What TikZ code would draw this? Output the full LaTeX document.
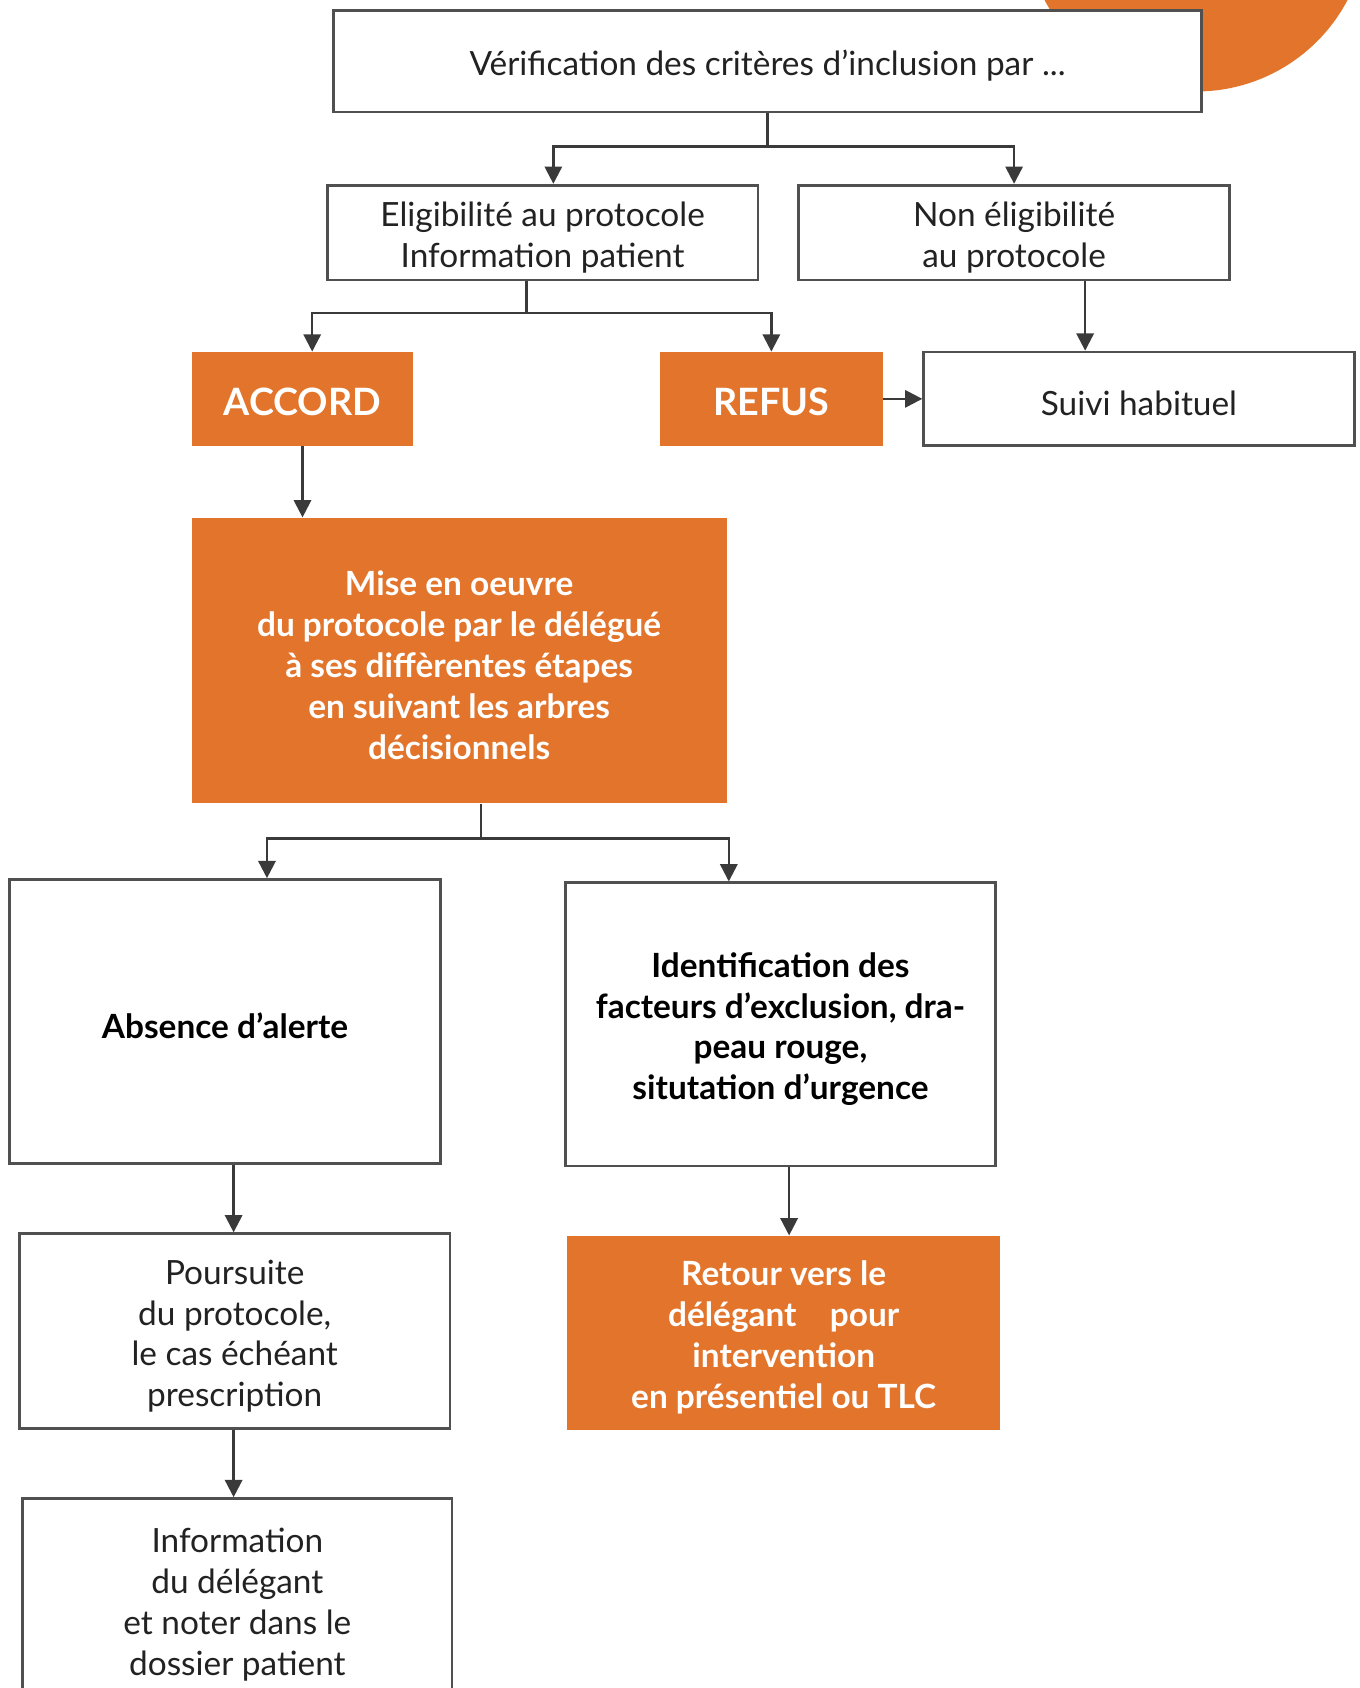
\documentclass[tikz,border=0pt]{standalone}
\usepackage{fontspec}
\setmainfont{Lato}
\usetikzlibrary{arrows.meta}
\definecolor{orng}{HTML}{E2742B}
\definecolor{ln}{HTML}{3A3A3A}
\definecolor{bd}{HTML}{505050}
\definecolor{txt}{HTML}{222222}
\newcommand\tstr{\rule{0pt}{16pt}}
\begin{document}
\begin{tikzpicture}[x=0.5pt,y=-0.5pt,
  wbox/.style={draw=bd,line width=1.25pt,fill=white,inner sep=0pt,align=center,
    font=\fontsize{15.5}{19}\selectfont,text=txt},
  bwbox/.style={wbox,font=\bfseries\fontsize{15.5}{19}\selectfont,text=black},
  obox/.style={fill=orng,inner sep=0pt,align=center,
    font=\bfseries\fontsize{15.5}{19}\selectfont,text=white},
  big/.style={font=\bfseries\fontsize{17.5}{19}\selectfont},
  conn/.style={draw=ln,line width=1.1pt},
  arr/.style={conn,-{Triangle[length=8pt,width=8pt]}}
]
\useasboundingbox (0,0) rectangle (1263,1568);
\clip (0,0) rectangle (1263,1568);
\fill[orng] (1111,-74) circle (79.5pt);

\node[wbox,minimum width=403pt,minimum height=47pt] (top) at (713,57)
  {\tstr Vérification des critères d’inclusion par ...};
\node[wbox,minimum width=200pt,minimum height=44pt] (elig) at (504,216)
  {\tstr Eligibilité au protocole\\Information patient};
\node[wbox,minimum width=200pt,minimum height=44pt] (nonel) at (942,216)
  {\tstr Non éligibilité\\au protocole};
\node[obox,big,minimum width=103pt,minimum height=43.5pt] (accord) at (281,370.5) {\tstr ACCORD};
\node[obox,big,minimum width=103.5pt,minimum height=43.5pt] (refus) at (716.5,370.5) {\tstr REFUS};
\node[wbox,minimum width=200pt,minimum height=43.5pt] (suivi) at (1058,370.5) {\tstr Suivi habituel};
\node[obox,minimum width=248.5pt,minimum height=132.5pt] (mise) at (426.5,613.5)
  {\tstr Mise en oeuvre\\du protocole par le délégué\\à ses diffèrentes étapes\\en suivant les arbres\\décisionnels};
\node[bwbox,minimum width=200pt,minimum height=132pt] (abs) at (209,949) {\tstr Absence d’alerte};
\node[bwbox,minimum width=200pt,minimum height=131.5pt] (ident) at (725,951.5)
  {\tstr Identification des\\facteurs d’exclusion, dra-\\peau rouge,\\situtation d’urgence};
\node[wbox,minimum width=200pt,minimum height=90.5pt] (pours) at (218,1236.5)
  {\tstr Poursuite\\du protocole,\\le cas échéant\\prescription};
\node[obox,minimum width=201pt,minimum height=90pt] (retour) at (728,1238)
  {\tstr Retour vers le\\délégant\quad pour\\intervention\\en présentiel ou TLC};
\node[wbox,minimum width=199.5pt,minimum height=94pt] (info) at (220.5,1486)
  {\tstr Information\\du délégant\\et noter dans le\\dossier patient};

\coordinate (j1) at (713,136);
\draw[conn] (top.south) -- (j1);
\draw[arr] (j1) -| ([xshift=5pt]elig.north);
\draw[arr] (j1) -| (nonel.north);

\coordinate (j2) at (489,291);
\draw[conn] ([xshift=-7.5pt]elig.south) -- (j2);
\draw[arr] (j2) -| ([xshift=4.5pt]accord.north);
\draw[arr] (j2) -| (refus.north);

\draw[arr] ([xshift=33pt]nonel.south) -- ([xshift=-25pt]suivi.north);
\draw[arr] (refus.east) -- (suivi.west);
\draw[arr] (accord.south) -- ([xshift=-72.75pt]mise.north);

\coordinate (j3) at (447,779);
\draw[conn] ([xshift=10.25pt]mise.south) -- (j3);
\draw[arr] (j3) -| ([xshift=19.5pt]abs.north);
\draw[arr] (j3) -| ([xshift=-24pt]ident.north);

\draw[arr] ([xshift=4pt]abs.south) -- ([xshift=-0.5pt]pours.north);
\draw[arr] ([xshift=4pt]ident.south) -- ([xshift=2.5pt]retour.north);
\draw[arr] ([xshift=-0.5pt]pours.south) -- ([xshift=-1.75pt]info.north);
\end{tikzpicture}
\end{document}
